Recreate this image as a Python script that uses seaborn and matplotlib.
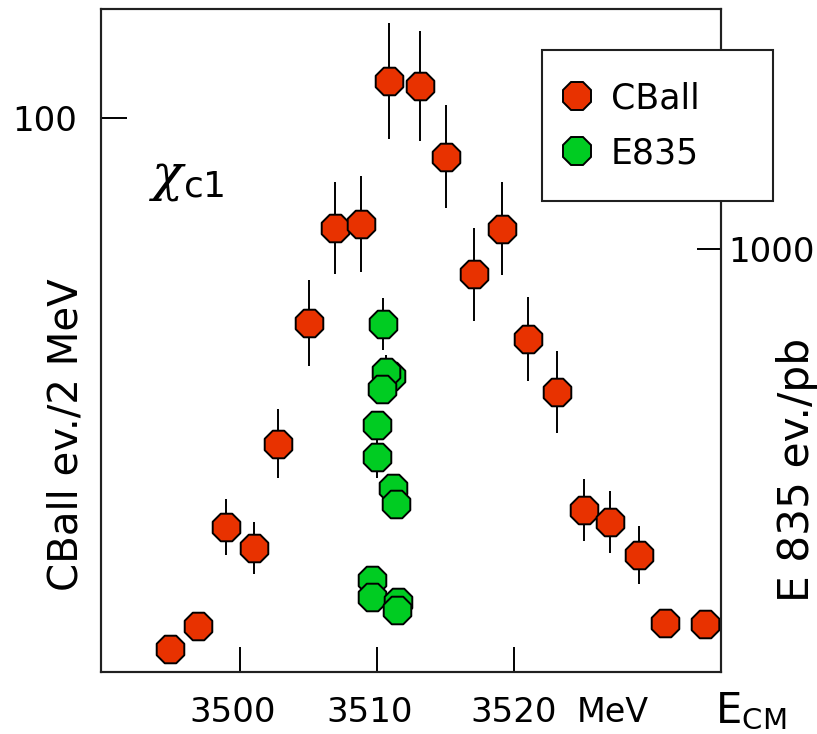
import matplotlib
matplotlib.use("Agg")
import matplotlib.pyplot as plt
import matplotlib.transforms as mtransforms
from matplotlib.lines import Line2D
import seaborn as sns
import pandas as pd

# ---------------- data ----------------
cball_E = [3494.9, 3496.9, 3499.0, 3501.0, 3502.8, 3505.0, 3506.9, 3508.8, 3510.9, 3513.1,
           3515.0, 3517.1, 3519.1, 3521.0, 3523.1, 3525.1, 3527.0, 3529.1, 3531.0, 3533.9]
cball_N = [4.2, 8.3, 26.2, 22.4, 41.2, 63.0, 80.1, 80.9, 106.7, 105.8,
           93.0, 71.8, 80.0, 60.1, 50.5, 29.2, 27.1, 21.1, 8.8, 8.7]
cball_err = [2.0, 2.4, 5.0, 4.7, 6.2, 7.8, 8.3, 8.7, 10.4, 10.0,
             9.3, 8.4, 8.4, 7.6, 7.4, 5.6, 5.6, 5.2, 2.4, 2.4]

e835_E = [3510.44, 3511.0, 3510.66, 3510.37, 3510.0, 3510.0, 3511.17, 3511.39,
          3509.63, 3509.63, 3511.53, 3511.46]
e835_N = [823, 700, 709, 669, 584, 508, 435, 397, 217, 177, 165, 147]
e835_err = [61, 30, 40, 30, 30, 50, 30, 30, 25, 25, 25, 25]

x_ticks = [3500, 3510, 3520]
x_ticklabels = ["3500", "3510", "3520"]
left_ticks = [100]
right_ticks = [1000]

red = "#E83200"
green = "#00CC22"

# ---------------- style ----------------
sns.set_style("white")
plt.rcParams["font.family"] = ["DejaVu Sans"]
plt.rcParams["text.color"] = "black"
plt.rcParams["mathtext.fontset"] = "custom"
plt.rcParams["mathtext.rm"] = "DejaVu Sans"
plt.rcParams["mathtext.it"] = "DejaVu Serif:italic"
plt.rcParams["mathtext.bf"] = "DejaVu Sans:bold"

fig = plt.figure(figsize=(8.17, 7.34), dpi=100)
ax = fig.add_axes([101/817, 1-672/734, 620/817, 663/734])
ax2 = ax.twinx()

df_c = pd.DataFrame({"E": cball_E, "N": cball_N})
df_e = pd.DataFrame({"E": e835_E, "N": e835_N})

ms = 21.5
mew = 1.4
ax.errorbar(cball_E, cball_N, yerr=cball_err, fmt="none", ecolor="black",
            elinewidth=1.4, capsize=0, zorder=1)
sns.scatterplot(data=df_c, x="E", y="N", ax=ax, marker="8", s=ms**2, color=red,
                edgecolor="black", linewidth=mew, zorder=2, legend=False)

ax2.errorbar(e835_E, e835_N, yerr=e835_err, fmt="none", ecolor="black",
             elinewidth=1.4, capsize=0, zorder=1)
sns.scatterplot(data=df_e, x="E", y="N", ax=ax2, marker="8", s=ms**2, color=green,
                edgecolor="black", linewidth=mew, zorder=2, legend=False)

ax.set_xlim(3489.85, 3535.1)
ax.set_ylim(0, 119.7)
ax2.set_ylim(0, 1567)

ax.set_xticks(x_ticks)
ax.set_xticklabels(x_ticklabels)
ax.set_yticks(left_ticks)
ax.set_yticklabels([str(t) for t in left_ticks])
ax2.set_yticks(right_ticks)
ax2.set_yticklabels([str(t) for t in right_ticks])

ax.tick_params(axis="x", direction="in", length=18, width=1.4, pad=17,
               labelsize=24.5, colors="black", bottom=True, top=False)
ax.tick_params(axis="y", direction="in", length=19, width=1.4, pad=17,
               labelsize=24.5, colors="black", left=True, right=False)
ax2.tick_params(axis="y", direction="in", length=17, width=1.4, pad=5,
                labelsize=24.5, colors="black", right=True, left=False)

# the first two energy labels sit slightly left of their ticks in the original
shift = mtransforms.ScaledTranslation(-7/100, 0, fig.dpi_scale_trans)
for lbl in ax.get_xticklabels()[:2]:
    lbl.set_transform(lbl.get_transform() + shift)

ax.set_xlabel("")
ax.set_ylabel("")
ax2.set_ylabel("")

for a in (ax, ax2):
    for sp in a.spines.values():
        sp.set_color("#202020")
        sp.set_linewidth(1.5)
        sp.set_visible(True)

ax.annotate("MeV", xy=(3524.6, 0), xycoords=("data", "axes fraction"),
            xytext=(0, -17), textcoords="offset points", ha="left", va="top",
            fontsize=24, color="black")

fig.text(67/817, 1-435/734, "CBall ev./2 MeV", rotation=90, ha="center", va="center",
         fontsize=29, color="black")
fig.text(797/817, 1-470/734, "E 835 ev./pb", rotation=90, ha="center", va="center",
         fontsize=30.5, color="black")
fig.text(715/817, 1-722/734, r"$\mathrm{E}_{\mathrm{CM}}$", ha="left", va="baseline",
         fontsize=30, color="black")
fig.text(149/817, 1-190/734, r"$\chi_{\mathrm{c1}}$", ha="left", va="baseline",
         fontsize=37, color="black")

handles = [Line2D([], [], marker="8", ls="none", ms=ms, mfc=red, mec="black", mew=mew),
           Line2D([], [], marker="8", ls="none", ms=ms, mfc=green, mec="black", mew=mew)]
leg = fig.legend(handles, ["CBall", "E835"], loc="upper left",
                 bbox_to_anchor=(542/817, 1-197/734, 231/817, 147/734),
                 mode="expand", borderaxespad=0, borderpad=0.9, handlelength=0.2,
                 handletextpad=0.88, labelspacing=0.6, fontsize=25,
                 frameon=True, fancybox=False, framealpha=1, labelcolor="black")
leg.get_frame().set_edgecolor("#202020")
leg.get_frame().set_linewidth(1.5)

fig.savefig("out.png", dpi=100)
